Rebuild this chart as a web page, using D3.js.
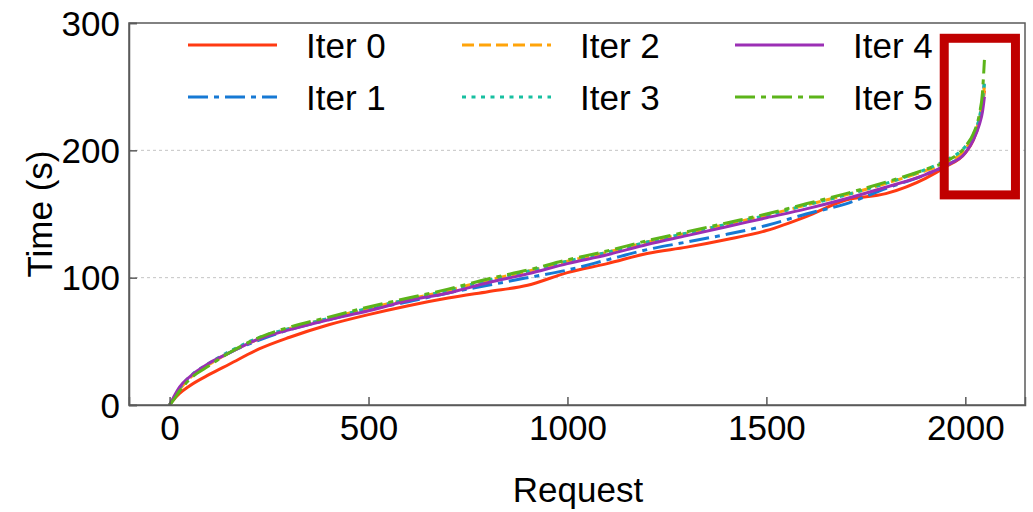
<!DOCTYPE html>
<html>
<head>
<meta charset="utf-8">
<script src="https://cdn.jsdelivr.net/npm/d3@7"></script>
<style>
  html, body { margin: 0; padding: 0; background: #fff; }
  svg { display: block; font-family: "Liberation Sans", Arial, sans-serif; }
</style>
</head>
<body>
<svg id="chart" width="1033" height="512"></svg>
<script>
// ---- data ----
const requests = [0, 10, 25, 50, 100, 150, 225, 300, 400, 500, 600, 700, 800, 900, 1000, 1100, 1200, 1300, 1400, 1500, 1600, 1700, 1800, 1900, 1950, 2000, 2020, 2035, 2043, 2048];
const iter0 = [0, 4, 9, 15, 24, 32, 44, 53, 63, 71, 78, 84, 89, 94, 104, 111, 119, 124, 130, 137, 148, 161, 166, 178, 187, 198, 208, 222, 235, 247];
const iter1 = [0, 5, 12, 21, 32, 41, 51, 59, 67, 75, 81, 88, 94, 100, 106, 114, 122, 128, 134, 141, 150, 158, 170, 181, 188, 199, 210, 225, 238, 255];
const iter2 = [0, 5, 12, 21, 32, 41, 52, 60, 68, 76, 83, 90, 98, 105, 113, 120, 128, 135, 142, 149, 157, 165, 174, 184, 190, 201, 211, 224, 238, 250];
const iter3 = [0, 5, 13, 22, 33, 42, 53, 60, 68, 76, 83, 90, 98, 105, 113, 120, 128, 135, 142, 149, 157, 165, 174, 185, 192, 203, 212, 225, 240, 252];
const iter4 = [0, 6, 14, 22, 33, 41, 52, 59, 67, 74, 82, 88, 96, 103, 111, 118, 126, 133, 140, 147, 154, 162, 171, 181, 188, 198, 208, 220, 230, 242];
const iter5 = [0, 4, 11, 20, 31, 41, 53, 61, 69, 77, 84, 91, 99, 106, 114, 121, 129, 136, 143, 150, 158, 166, 175, 185, 191, 203, 213, 228, 245, 271];
const seriesNames = ["Iter 0", "Iter 1", "Iter 2", "Iter 3", "Iter 4", "Iter 5"];
const seriesValues = [iter0, iter1, iter2, iter3, iter4, iter5];
const xTicks = [0, 500, 1000, 1500, 2000];
const yTicks = [0, 100, 200, 300];
const highlightX = [1947, 2126];
const highlightY = [165, 288];

// ---- styles ----
const colors = ["#ff3a12", "#1679d4", "#ffa40a", "#17bfa0", "#9b2fb5", "#5cb41a"];
const dashes = [null, "20,6,5,6", "12,5", "4,5.5", null, "20,6,5,6"];

const svg = d3.select("#chart");
const M = { left: 129, right: 1025, top: 23, bottom: 405 };

const x = d3.scaleLinear().domain([-102, 2150]).range([M.left, M.right]);
const y = d3.scaleLinear().domain([0, 300]).range([M.bottom, M.top]);

// grid
svg.append("g").selectAll("line").data([100, 200]).join("line")
  .attr("x1", M.left).attr("x2", M.right)
  .attr("y1", d => y(d)).attr("y2", d => y(d))
  .attr("stroke", "#c4c4c4").attr("stroke-width", 1).attr("stroke-dasharray", "3,3");

// lines
const line = d3.line().x(d => x(d[0])).y(d => y(d[1])).curve(d3.curveMonotoneX);
const order = [0, 1, 2, 3, 4, 5];
svg.append("g").selectAll("path").data(order).join("path")
  .attr("d", i => line(requests.map((r, k) => [r, seriesValues[i][k]])))
  .attr("fill", "none")
  .attr("stroke", i => colors[i])
  .attr("stroke-width", 3)
  .attr("stroke-dasharray", i => dashes[i])
  .attr("stroke-linejoin", "round");

// frame
svg.append("rect")
  .attr("x", M.left).attr("y", M.top)
  .attr("width", M.right - M.left).attr("height", M.bottom - M.top)
  .attr("fill", "none").attr("stroke", "#5a5a5a").attr("stroke-width", 1.5);

// axes (inward ticks)
const xAxis = d3.axisBottom(x).tickValues(xTicks).tickSize(-8).tickPadding(14).tickFormat(d3.format("d"));
const gx = svg.append("g").attr("transform", `translate(0,${M.bottom})`).call(xAxis);
const yAxis = d3.axisLeft(y).tickValues(yTicks).tickSize(-8).tickPadding(14).tickFormat(d3.format("d"));
const gy = svg.append("g").attr("transform", `translate(${M.left},0)`).call(yAxis);
[gx, gy].forEach(g => {
  g.select(".domain").attr("stroke", "#5a5a5a").attr("stroke-width", 1.5);
  g.selectAll(".tick line").attr("stroke", "#5a5a5a").attr("stroke-width", 1.5);
  g.selectAll("text").attr("font-size", 35).attr("fill", "#000")
    .attr("font-family", "'Liberation Sans', Arial, sans-serif");
});
gx.selectAll("text").attr("dy", "0.71em").attr("y", 10);
gy.selectAll("text").attr("x", -9).attr("dy", "0.35em");

// axis titles
svg.append("text").attr("x", 578).attr("y", 502).attr("text-anchor", "middle")
  .attr("font-size", 35).text("Request");
svg.append("text").attr("transform", `translate(52,${(M.top + M.bottom) / 2}) rotate(-90)`)
  .attr("text-anchor", "middle").attr("font-size", 35).text("Time (s)");

// highlight box
svg.append("rect")
  .attr("x", x(highlightX[0])).attr("y", y(highlightY[1]))
  .attr("width", x(highlightX[1]) - x(highlightX[0]))
  .attr("height", y(highlightY[0]) - y(highlightY[1]))
  .attr("fill", "none").attr("stroke", "#c00000").attr("stroke-width", 9);

// legend
const legCols = [188, 462, 735];
const legRows = [45, 97];
const leg = svg.append("g").selectAll("g").data(seriesNames).join("g")
  .attr("transform", (d, i) => `translate(${legCols[Math.floor(i / 2)]},${legRows[i % 2]})`);
leg.append("line").attr("x1", 0).attr("x2", 89).attr("y1", 0).attr("y2", 0)
  .attr("stroke", (d, i) => colors[i]).attr("stroke-width", 3)
  .attr("stroke-dasharray", (d, i) => dashes[i]);
leg.append("text").attr("x", 118).attr("y", 13).attr("font-size", 35).text(d => d);
</script>
</body>
</html>
